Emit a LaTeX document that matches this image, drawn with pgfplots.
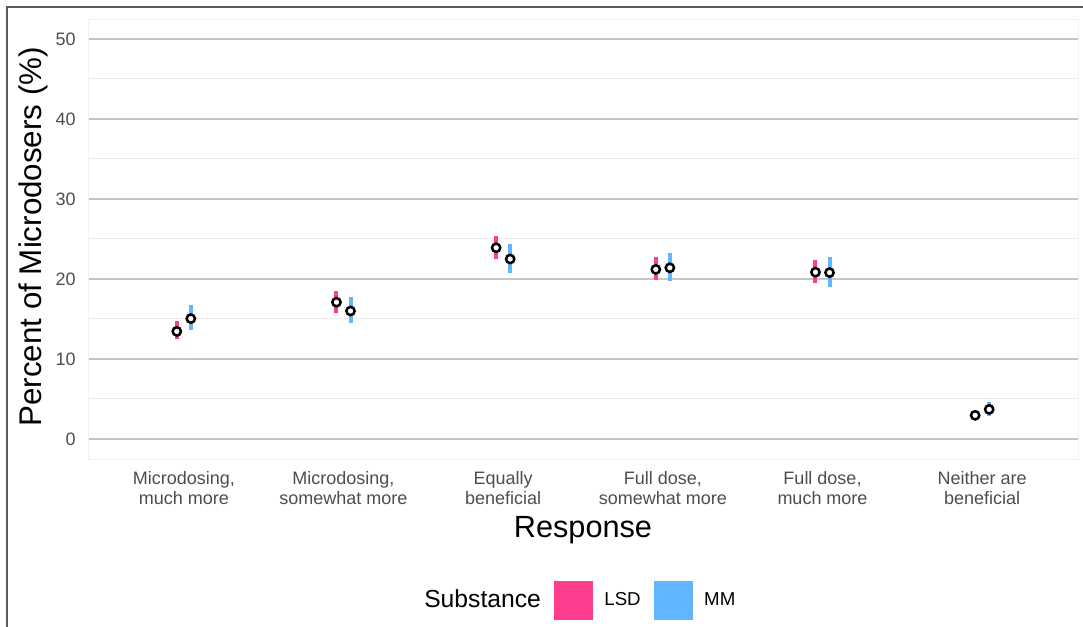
\documentclass[border=0pt]{standalone}
\usepackage{pgfplots}
\pgfplotsset{compat=1.18}
\usepackage{pgfplotstable}
\usepackage{fontspec}
\setmainfont{Liberation Sans}
\definecolor{lsd}{HTML}{FF3D8F}
\definecolor{mm}{HTML}{62B5FF}
\definecolor{tickgray}{HTML}{4D4D4D}
\definecolor{majgrid}{HTML}{C6C6C6}
\definecolor{mingrid}{HTML}{EBEBEB}
\definecolor{framegray}{HTML}{5A5A5A}

\pgfplotstableread{
x y ep em
0.956 13.45 1.25 1.00
1.956 17.10 1.40 1.30
2.956 23.90 1.50 1.40
3.956 21.20 1.60 1.30
4.956 20.85 1.55 1.35
5.956 2.96 0.55 0.55
}\lsdtab
\pgfplotstableread{
x y ep em
1.044 15.05 1.65 1.45
2.044 16.00 1.70 1.50
3.044 22.50 1.90 1.70
4.044 21.40 1.90 1.70
5.044 20.80 1.90 1.80
6.044 3.70 0.90 0.80
}\mmtab

\begin{document}
\begin{tikzpicture}
\path[use as bounding box] (0,0) rectangle (812.25pt,470.25pt);
\draw[framegray, line width=1.5pt] (5.25pt,0pt) -- (5.25pt,465pt) -- (812.25pt,465pt);
\begin{axis}[
  at={(66pt,126pt)}, anchor=south west,
  scale only axis, width=742.5pt, height=330pt,
  xmin=0.4, xmax=6.6, ymin=-2.5, ymax=52.5,
  xtick={1,2,3,4,5,6},
  xticklabels={{Microdosing,\\much more},{Microdosing,\\somewhat more},{Equally\\beneficial},{Full dose,\\somewhat more},{Full dose,\\much more},{Neither are\\beneficial}},
  ytick={0,10,20,30,40,50},
  minor ytick={5,15,25,35,45},
  ymajorgrids, yminorgrids,
  major grid style={majgrid, line width=1.1pt},
  minor grid style={mingrid, line width=0.75pt},
  major tick length=0pt, minor tick length=0pt,
  axis line style={draw=black!5},
  /pgf/number format/assume math mode=true,
  xticklabel style={align=center, anchor=north, inner sep=0pt, yshift=-9.5pt, text=tickgray, font=\fontsize{13.5}{14.6}\selectfont},
  yticklabel style={anchor=east, inner sep=0pt, xshift=-9pt, text=tickgray, font=\fontsize{13.5}{15}\selectfont},
  xlabel={Response},
  ylabel={Percent of Microdosers (\%)},
  xlabel style={at={(axis description cs:0.5,-0.1795)}, anchor=base, inner sep=0pt, font=\fontsize{23}{26}\selectfont},
  ylabel style={at={(axis description cs:-0.0556,0.505)}, anchor=center, rotate=0, inner sep=0pt, font=\fontsize{23.5}{26}\selectfont},
  legend columns=-1,
  legend style={at={(axis description cs:0.3273,-0.3205)}, anchor=west, draw=none, fill=none, inner sep=0pt,
    /tikz/every odd column/.style={column sep=9pt},
    /tikz/every even column/.style={column sep=9.75pt},
    nodes={inner sep=0pt, anchor=west}},
]
\addlegendimage{legend image code/.code={}}
\addlegendentry{\fontsize{18.5}{20}\selectfont Substance}
\addlegendimage{legend image code/.code={\fill[lsd] (0pt,-14.25pt) rectangle (28.5pt,14.25pt);}}
\addlegendentry{\fontsize{14}{16}\selectfont LSD}
\addlegendimage{legend image code/.code={\fill[mm] (0pt,-14.25pt) rectangle (28.5pt,14.25pt);}}
\addlegendentry{\fontsize{14}{16}\selectfont MM}

\addplot[draw=none, mark=none, forget plot,
  error bars/.cd, y dir=both, y explicit, error mark=none,
  error bar style={line width=3pt, lsd}]
  table[x=x, y=y, y error plus=ep, y error minus=em] {\lsdtab};
\addplot[draw=none, mark=none, forget plot,
  error bars/.cd, y dir=both, y explicit, error mark=none,
  error bar style={line width=3pt, mm}]
  table[x=x, y=y, y error plus=ep, y error minus=em] {\mmtab};
\addplot[only marks, mark=*, mark size=3.1pt, forget plot,
  mark options={draw=black, fill=white, line width=1.9pt}]
  table[x=x, y=y] {\lsdtab};
\addplot[only marks, mark=*, mark size=3.1pt, forget plot,
  mark options={draw=black, fill=white, line width=1.9pt}]
  table[x=x, y=y] {\mmtab};
\end{axis}
\end{tikzpicture}
\end{document}
